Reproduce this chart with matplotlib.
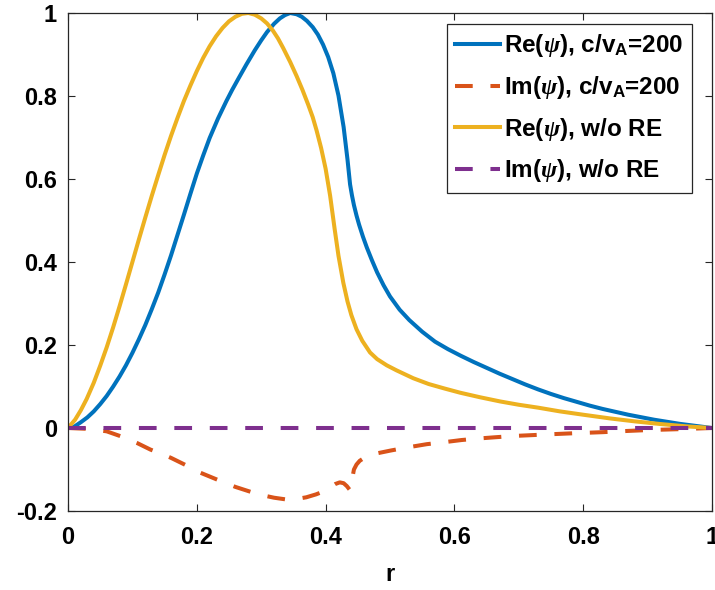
import matplotlib
matplotlib.use("Agg")
import matplotlib.pyplot as plt

# Re(psi), c/vA=200
r_re1 = [0, 0.01, 0.02, 0.03, 0.04, 0.05, 0.06, 0.07, 0.08, 0.09, 0.1, 0.11, 0.12, 0.13, 0.14, 0.15,
         0.16, 0.17, 0.18, 0.19, 0.2, 0.21, 0.22, 0.233, 0.246, 0.255, 0.265, 0.277, 0.29, 0.3,
         0.309, 0.32, 0.329, 0.337, 0.345, 0.355, 0.363, 0.371, 0.38, 0.388, 0.396, 0.404,
         0.412, 0.42, 0.428, 0.434, 0.438, 0.441, 0.444, 0.448, 0.452, 0.458, 0.464, 0.472,
         0.48, 0.49, 0.5, 0.515, 0.53, 0.55, 0.57, 0.59, 0.61, 0.63, 0.65, 0.67, 0.69, 0.71,
         0.73, 0.75, 0.77, 0.79, 0.81, 0.83, 0.85, 0.87, 0.89, 0.91, 0.93, 0.95, 0.97, 0.985, 1.0]
v_re1 = [0, 0.0035, 0.014, 0.0255, 0.04, 0.0575, 0.077, 0.0995, 0.124, 0.151, 0.181, 0.2135, 0.248,
         0.286, 0.326, 0.37, 0.416, 0.465, 0.514, 0.564, 0.613, 0.657, 0.699, 0.746, 0.788, 0.815,
         0.843, 0.876, 0.91, 0.934,
         0.954, 0.974, 0.987, 0.995, 1.0, 0.997, 0.991, 0.981, 0.966, 0.948, 0.924, 0.894,
         0.855, 0.801, 0.725, 0.647, 0.587, 0.56, 0.537, 0.512, 0.49, 0.461, 0.435, 0.404,
         0.375, 0.344, 0.317, 0.285, 0.26, 0.232, 0.208, 0.19, 0.174, 0.159, 0.145, 0.131, 0.118, 0.105,
         0.093, 0.082, 0.072, 0.063, 0.054, 0.046, 0.039, 0.032, 0.026, 0.02, 0.015, 0.01, 0.006, 0.003, 0.0]

# Im(psi), c/vA=200
r_im1 = [0, 0.03, 0.06, 0.082, 0.107, 0.128, 0.145, 0.16, 0.181, 0.206, 0.231, 0.26, 0.288,
         0.305, 0.32, 0.338, 0.355, 0.37, 0.385, 0.395, 0.405, 0.415, 0.422, 0.428, 0.433, 0.438,
         0.441, 0.444, 0.448, 0.453, 0.464, 0.48, 0.502, 0.53, 0.557, 0.585, 0.611, 0.64, 0.666,
         0.695, 0.723, 0.75, 0.78, 0.831, 0.87, 0.9, 0.945, 1.0]
v_im1 = [0, -0.002, -0.008, -0.02, -0.036, -0.052, -0.062, -0.072, -0.088, -0.108, -0.124, -0.142,
         -0.156, -0.163, -0.168, -0.172, -0.171, -0.167, -0.16, -0.154, -0.145, -0.135, -0.131, -0.133,
         -0.14, -0.15, -0.125, -0.1, -0.088, -0.079, -0.068, -0.061, -0.054, -0.046, -0.039, -0.034,
         -0.029, -0.025, -0.022, -0.019, -0.017, -0.015, -0.013, -0.01, -0.007, -0.005, -0.003, 0.0]

# Re(psi), w/o RE
r_re0 = [0, 0.011, 0.02, 0.029, 0.04, 0.05, 0.06, 0.07, 0.08, 0.09, 0.1, 0.11, 0.12, 0.13, 0.14,
         0.15, 0.16, 0.17, 0.18, 0.19, 0.2, 0.21, 0.22, 0.23, 0.24, 0.25, 0.26, 0.27, 0.28, 0.29,
         0.3, 0.309, 0.318, 0.326, 0.334, 0.345, 0.355, 0.364, 0.373, 0.38, 0.386, 0.393, 0.4,
         0.407, 0.414, 0.42, 0.4275, 0.434, 0.44, 0.448, 0.457, 0.469, 0.48, 0.495, 0.51, 0.536,
         0.56, 0.585, 0.609, 0.64, 0.671, 0.7, 0.73, 0.764, 0.8, 0.842, 0.88, 0.919, 0.96, 1.0]
v_re0 = [0, 0.02, 0.043, 0.07, 0.109, 0.15, 0.194, 0.242, 0.293, 0.346, 0.4, 0.454, 0.507, 0.559, 0.609,
         0.658, 0.704, 0.747, 0.788, 0.825, 0.86, 0.892, 0.92, 0.944, 0.964, 0.98, 0.991, 0.998, 1.0, 0.996,
         0.987, 0.975, 0.958, 0.939, 0.916, 0.882, 0.848, 0.815, 0.779, 0.749, 0.717, 0.675, 0.625,
         0.56, 0.48, 0.415, 0.35, 0.305, 0.272, 0.238, 0.21, 0.182, 0.166, 0.151, 0.139, 0.12,
         0.106, 0.095, 0.085, 0.074, 0.064, 0.056, 0.049, 0.04, 0.032, 0.023, 0.016, 0.0097, 0.004, 0.0]

# Im(psi), w/o RE
r_im0 = [0, 0.25, 0.5, 0.75, 1.0]
v_im0 = [0, 0, 0, 0, 0]

labels = [r"Re($\psi$), c/v$_{\mathrm{A}}$=200", r"Im($\psi$), c/v$_{\mathrm{A}}$=200",
          r"Re($\psi$), w/o RE", r"Im($\psi$), w/o RE"]
x_ticks = [0, 0.2, 0.4, 0.6, 0.8, 1]
x_ticklabels = ["0", "0.2", "0.4", "0.6", "0.8", "1"]
y_ticks = [-0.2, 0, 0.2, 0.4, 0.6, 0.8, 1]
y_ticklabels = ["-0.2", "0", "0.2", "0.4", "0.6", "0.8", "1"]

plt.rcParams['font.family'] = ['Liberation Sans', 'DejaVu Sans']
plt.rcParams['font.weight'] = 'bold'
plt.rcParams['mathtext.fontset'] = 'custom'
plt.rcParams['mathtext.rm'] = 'Liberation Sans:bold'
plt.rcParams['mathtext.it'] = 'Liberation Serif:italic'
plt.rcParams['mathtext.bf'] = 'Liberation Sans:bold'

fig = plt.figure(figsize=(7.15, 5.90), dpi=100)
ax = fig.add_axes([68/715, 1 - 511/590, 644/715, (511-13)/590])

lw = 2.9
dash = (0, (4.4, 4.4))
ax.plot(r_re1, v_re1, color='#0072BD', lw=lw, label=labels[0])
ax.plot(r_im1, v_im1, color='#D95319', lw=lw, linestyle=dash, label=labels[1])
ax.plot(r_re0, v_re0, color='#EDB120', lw=lw, label=labels[2])
ax.plot(r_im0, v_im0, color='#7E2F8E', lw=lw, linestyle=dash, label=labels[3])

ax.set_xlim(0, 1)
ax.set_ylim(-0.2, 1)
ax.set_xticks(x_ticks)
ax.set_xticklabels(x_ticklabels)
ax.set_yticks(y_ticks)
ax.set_yticklabels(y_ticklabels)
ax.tick_params(direction='in', length=5, width=0.8, colors='#262626', labelsize=17,
               top=True, right=True)
ax.tick_params(axis='x', pad=11)
ax.tick_params(axis='y', pad=8)
for lab in ax.get_xticklabels() + ax.get_yticklabels():
    lab.set_fontweight('bold')
    lab.set_color('black')
for s in ax.spines.values():
    s.set_color('#262626')
    s.set_linewidth(0.9)

ax.set_xlabel('r', fontsize=17, fontweight='bold', labelpad=10)

leg = ax.legend(loc='upper right', fontsize=17.5, frameon=True, fancybox=False,
                edgecolor='#262626', framealpha=1, handlelength=1.85, handletextpad=0.165,
                borderpad=0.35, labelspacing=0.6, borderaxespad=0.0,
                bbox_to_anchor=(0.969, 0.978))
leg.get_frame().set_linewidth(0.9)
for t in leg.get_texts():
    t.set_fontweight('bold')

fig.savefig('out.png', dpi=100)
